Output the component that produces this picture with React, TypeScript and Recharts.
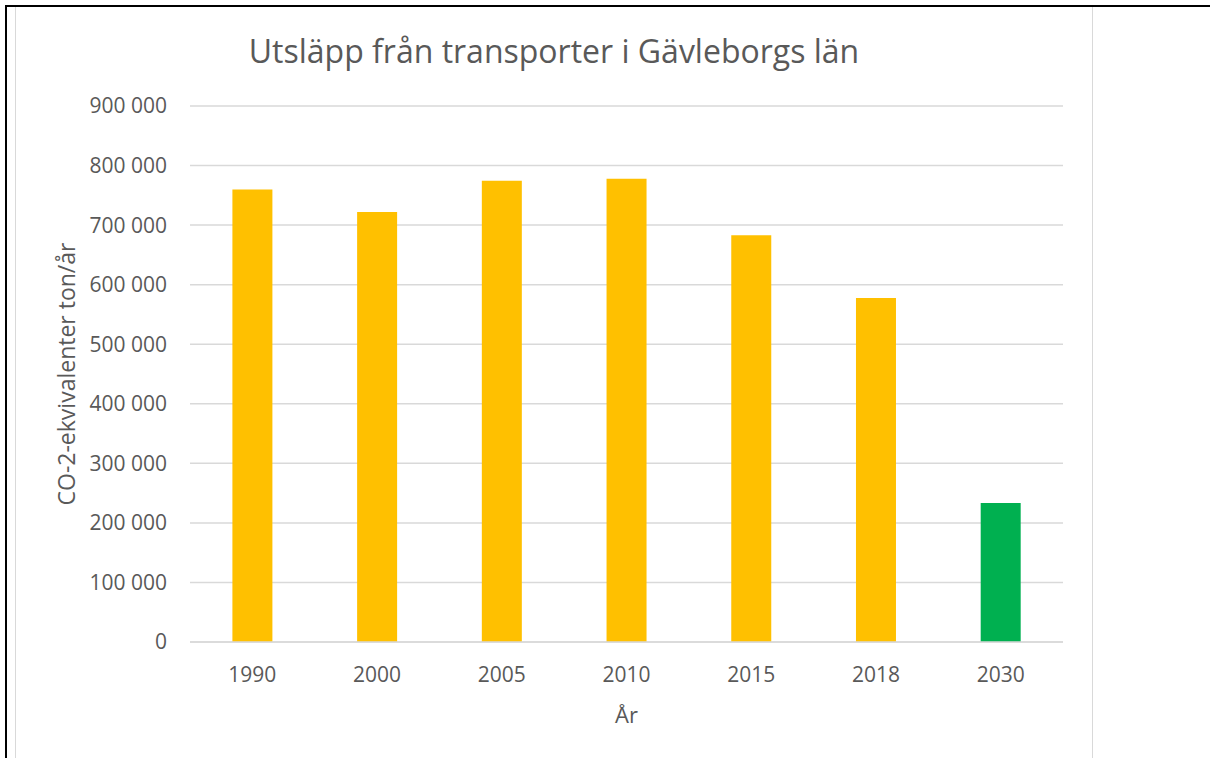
import React from "react";
import { BarChart, Bar, XAxis, YAxis, CartesianGrid, Cell, Label } from "recharts";

const years = ["1990", "2000", "2005", "2010", "2015", "2018", "2030"];
const emissions = [760000, 722000, 774500, 778000, 683000, 577500, 233500];
const barColors = ["#FFC000", "#FFC000", "#FFC000", "#FFC000", "#FFC000", "#FFC000", "#00B050"];
const yTicks = [0, 100000, 200000, 300000, 400000, 500000, 600000, 700000, 800000, 900000];

const title = "Utsläpp från transporter i Gävleborgs län";
const yTitle = "CO-2-ekvivalenter ton/år";
const xTitle = "År";

const data = years.map((y, i) => ({ year: y, value: emissions[i] }));

const FONT = "'Open Sans', sans-serif";
const TEXT = "#595959";

const fmt = (v: number) => {
  if (v === 0) return "0";
  const s = String(v);
  return s.replace(/\B(?=(\d{3})+(?!\d))/g, " ");
};

export default function App() {
  return (
    <div style={{ position: "absolute", left: 0, top: 0, width: 1210, height: 758, background: "#fff", overflow: "hidden" }}>
      {/* table borders */}
      <div style={{ position: "absolute", left: 5, top: 5, width: 1205, height: 2, background: "#000" }} />
      <div style={{ position: "absolute", left: 5, top: 5, width: 2, height: 753, background: "#000" }} />
      {/* chart frame */}
      <div style={{ position: "absolute", left: 15, top: 7, width: 1, height: 751, background: "#d9d9d9" }} />
      <div style={{ position: "absolute", left: 1092, top: 7, width: 1, height: 751, background: "#d9d9d9" }} />
      <div style={{ position: "absolute", left: 0, top: 29, width: 1108, textAlign: "center", fontFamily: FONT, fontSize: 32, color: TEXT, whiteSpace: "nowrap" }}>
        {title}
      </div>
      <div style={{ position: "absolute", left: 0, top: 0 }}>
        <BarChart
          width={1210}
          height={758}
          data={data}
          margin={{ top: 106, right: 147, bottom: 0, left: 40 }}
          barCategoryGap="34%"
        >
          <CartesianGrid vertical={false} stroke="#d9d9d9" strokeWidth={1.5} />
          <XAxis
            dataKey="year"
            tickLine={false}
            axisLine={{ stroke: "#d9d9d9", strokeWidth: 1.5 }}
            tickSize={0}
            tickMargin={25}
            tick={{ fill: TEXT, fontSize: 21, fontFamily: FONT }}
            height={116}
          >
            <Label value={xTitle} position="insideTop" offset={65} style={{ fill: TEXT, fontSize: 22, fontFamily: FONT }} />
          </XAxis>
          <YAxis
            domain={[0, 900000]}
            ticks={yTicks}
            interval={0}
            tickFormatter={fmt}
            tickLine={false}
            axisLine={false}
            tickSize={0}
            tickMargin={23}
            width={150}
            tick={{ fill: TEXT, fontSize: 21, fontFamily: FONT }}
          >
            <Label value={yTitle} angle={-90} position="insideLeft" offset={27} style={{ fill: TEXT, fontSize: 23, fontFamily: FONT, textAnchor: "middle" }} />
          </YAxis>
          <Bar dataKey="value" isAnimationActive={false}>
            {data.map((d, i) => (
              <Cell key={d.year} fill={barColors[i]} />
            ))}
          </Bar>
        </BarChart>
      </div>
    </div>
  );
}
